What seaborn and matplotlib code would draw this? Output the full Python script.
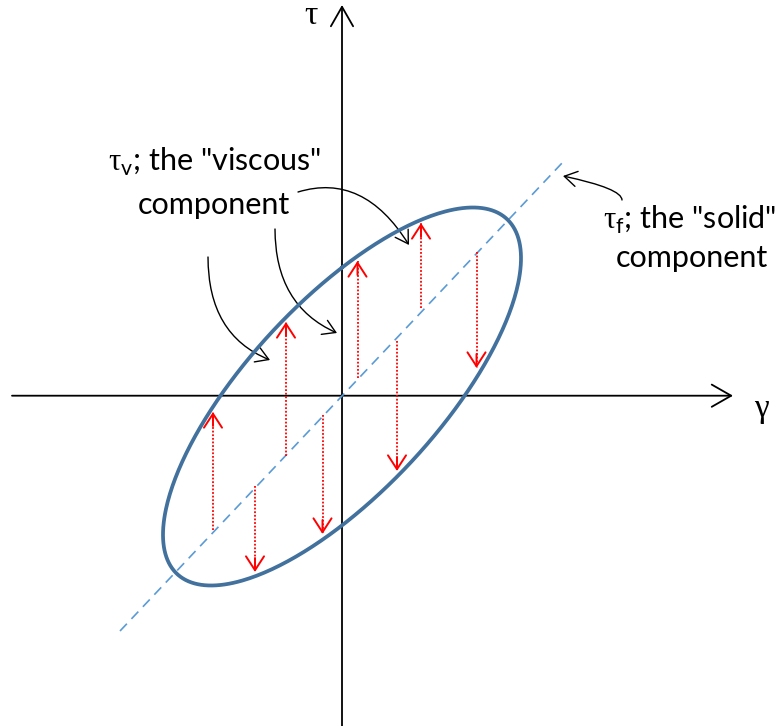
import numpy as np
import pandas as pd
import matplotlib
matplotlib.use("Agg")
import matplotlib.pyplot as plt
import seaborn as sns
from matplotlib.patches import FancyArrowPatch

# ---------------- data (diagram units = reference pixels, y downward) ----------------
ellipse_center = [342, 396.5]      # origin of the stress-strain plane
ellipse_amp = [179, 189]           # strain amplitude (x), stress amplitude (y)
phase_deg = 43                     # phase lag between stress and strain

solid_line_x = [120, 563]          # elastic ("solid") component line
solid_line_y = [631, 162]

arrow_x = [213, 255, 286, 322.5, 357.5, 397, 421, 476.5]   # viscous component arrows
arrow_from = [530, 486, 456, 415, 378, 341, 308, 252]
arrow_to = [412, 572, 322, 534, 261, 471, 223, 368]

axis_x_label = "γ"
axis_y_label = "τ"
viscous_label = [r'$\mathrm{\tau}_{\mathsf{v}}$; the "viscous"', "component"]
solid_label = [r'$\mathrm{\tau}_{\mathsf{f}}$; the "solid"', "component"]

# ---------------- figure ----------------
sns.set_theme(style="white")
plt.rcParams["font.family"] = ["Lato", "DejaVu Sans"]
plt.rcParams["text.color"] = "black"
plt.rcParams["mathtext.fontset"] = "custom"
plt.rcParams["mathtext.rm"] = "Liberation Serif"
plt.rcParams["mathtext.sf"] = "Lato"

fig = plt.figure(figsize=(7.76, 7.26), dpi=100)
ax = fig.add_axes([0, 0, 1, 1])
ax.set_xlim(0, 776)
ax.set_ylim(726, 0)
ax.axis("off")

ELL = "#41719C"
DASH = "#5B9BD5"
RED = "#FF0000"

# axes with open arrowheads
cx, cy = ellipse_center
ax.add_patch(FancyArrowPatch((12, 395.7), (733, 395.7), arrowstyle="->,head_length=14,head_width=8",
                             mutation_scale=1, lw=1.3, color="black", shrinkA=0, shrinkB=0))
ax.add_patch(FancyArrowPatch((342, 726), (342, 5), arrowstyle="->,head_length=14,head_width=8",
                             mutation_scale=1, lw=1.3, color="black", shrinkA=0, shrinkB=0))
ax.text(761, 409, axis_x_label, fontsize=24, family=["Liberation Serif", "DejaVu Serif"],
        ha="center", va="center", color="black")
ax.text(311, 16, axis_y_label, fontsize=24, family=["Liberation Serif", "DejaVu Serif"],
        ha="center", va="center", color="black")

# dashed solid-component line
sns.lineplot(x=solid_line_x, y=solid_line_y, ax=ax, color=DASH, lw=1.2,
             linestyle=(0, (6, 4)), estimator=None, sort=False)

# ellipse (Lissajous loop)
t = np.linspace(0, 2 * np.pi, 400)
d = np.deg2rad(phase_deg)
ell = pd.DataFrame({"x": cx + ellipse_amp[0] * np.sin(t),
                    "y": cy - ellipse_amp[1] * np.sin(t + d),
                    "order": np.arange(len(t))})
sns.lineplot(data=ell, x="x", y="y", ax=ax, color=ELL, lw=2.7, estimator=None, sort=False)

# red dotted viscous arrows
for xv, y0, y1 in zip(arrow_x, arrow_from, arrow_to):
    ax.plot([xv, xv], [y0, y1], color=RED, lw=1.3, linestyle=(0, (1, 1)))
    sgn = 1 if y1 < y0 else -1
    ax.add_patch(FancyArrowPatch((xv, y1 + sgn * 14), (xv, y1), arrowstyle="->,head_length=10,head_width=6.5",
                                 mutation_scale=1, lw=1.4, color=RED, shrinkA=0, shrinkB=0))

# annotations
ax.text(108, 171, viscous_label[0], fontsize=22, ha="left", va="baseline", color="black")
ax.text(214, 214, viscous_label[1], fontsize=22, ha="center", va="baseline", color="black")
ax.text(603, 229, solid_label[0], fontsize=22, ha="left", va="baseline", color="black")
ax.text(692, 267, solid_label[1], fontsize=22, ha="center", va="baseline", color="black")

curves = [((208, 257), (270, 360), "angle3,angleA=-90,angleB=-22"),
          ((275, 229), (337, 333), "angle3,angleA=-90,angleB=-24"),
          ((298, 192), (409, 245), "angle3,angleA=17,angleB=-58"),
          ((622, 200), (563, 176), "angle3,angleA=90,angleB=-12")]
for a, b, cs in curves:
    ax.add_patch(FancyArrowPatch(a, b, connectionstyle=cs, arrowstyle="->,head_length=9,head_width=5.5",
                                 mutation_scale=1, lw=1.0, color="black", shrinkA=0, shrinkB=0))

fig.savefig("out.png", dpi=100)
